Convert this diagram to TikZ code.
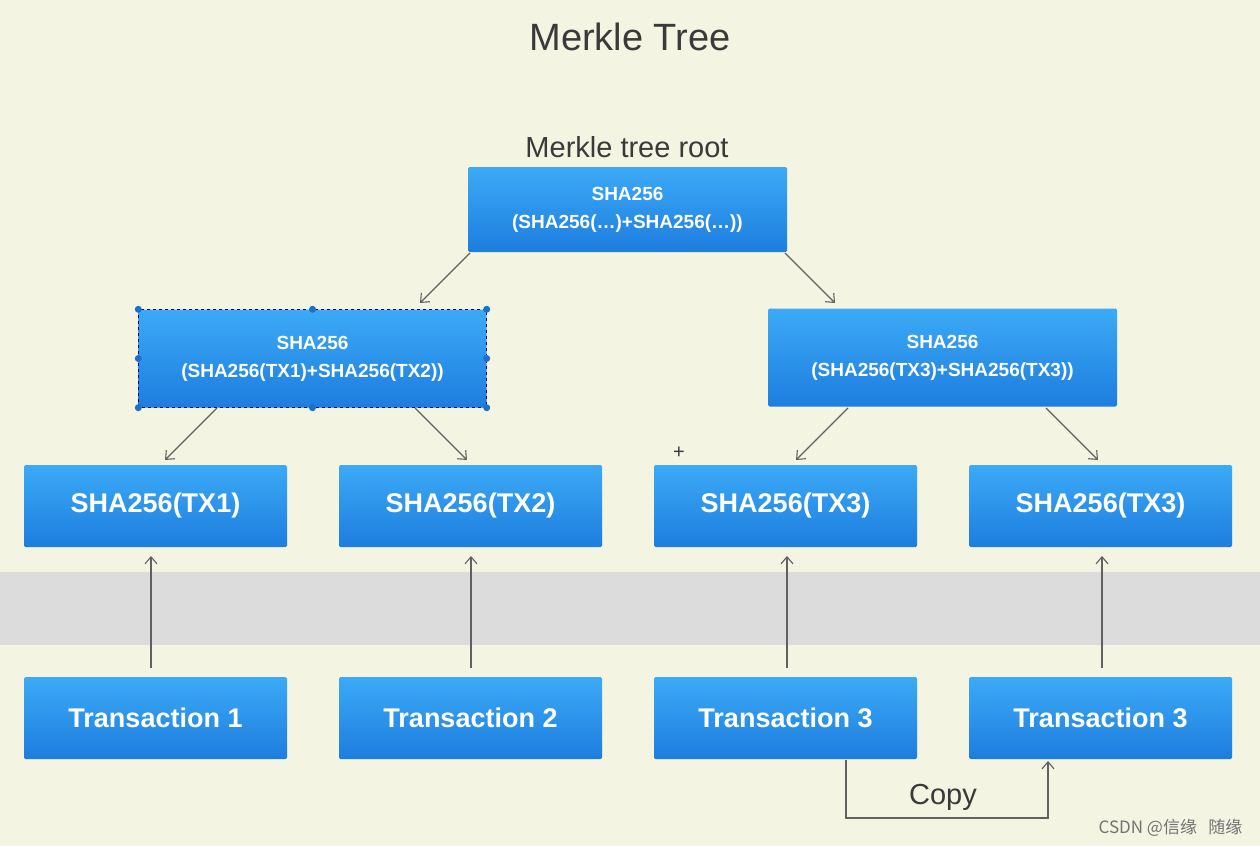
\documentclass[tikz,border=0pt]{standalone}
\usepackage{fontspec}
\setmainfont{Liberation Sans}
\newfontfamily\cjk{Noto Sans CJK SC}
\usetikzlibrary{arrows.meta}
\definecolor{bg}{HTML}{F3F4E2}
\definecolor{band}{HTML}{DCDCDC}
\definecolor{btop}{HTML}{3CAAF6}
\definecolor{bbot}{HTML}{1D7DDF}
\definecolor{ink}{HTML}{3A3A3A}
\begin{document}
\begin{tikzpicture}[x=1pt,y=-1pt,
 box/.style={rectangle,top color=btop,bottom color=bbot,draw=none,text=white,font=\bfseries,align=center,inner sep=0pt,rounded corners=1.5pt},
 leaf/.style={box,minimum width=263pt,minimum height=82pt,font=\bfseries\fontsize{27}{30}\selectfont},
 mid/.style={box,minimum width=348pt,minimum height=98pt,font=\bfseries\fontsize{19}{28}\selectfont},
 arr/.style={draw=ink!80,line width=1.1pt,-{Straight Barb[length=7pt,width=12pt]}},
 handle/.style={circle,fill=bbot!90!black,inner sep=0pt,minimum size=7pt}]
\fill[bg] (0,0) rectangle (1260,846);
\fill[band] (0,572) rectangle (1260,645);
\node[text=ink,font=\fontsize{38}{40}\selectfont] (title) at (630,37) {Merkle Tree};
\node[text=ink,font=\fontsize{29}{32}\selectfont] (rootlbl) at (627,147) {Merkle tree root};
\node[box,minimum width=319pt,minimum height=85pt,font=\bfseries\fontsize{19}{28}\selectfont] (root) at (627.5,209.5) {SHA256\\(SHA256(…)+SHA256(…))};
\node[mid] (ml) at (312.5,358.5) {SHA256\\(SHA256(TX1)+SHA256(TX2))};
\node[mid,minimum width=349pt] (mr) at (942.5,357.5) {SHA256\\(SHA256(TX3)+SHA256(TX3))};
\draw[dashed,line width=0.8pt,draw=blue!40!black] (ml.north west) rectangle (ml.south east);
\foreach \a in {north west,north,north east,east,south east,south,south west,west}
  \node[handle] at (ml.\a) {};
\node[leaf] (h1) at (155.5,506) {SHA256(TX1)};
\node[leaf] (h2) at (470.5,506) {SHA256(TX2)};
\node[leaf] (h3) at (785.5,506) {SHA256(TX3)};
\node[leaf] (h4) at (1100.5,506) {SHA256(TX3)};
\node[leaf] (t1) at (155.5,718) {Transaction 1};
\node[leaf] (t2) at (470.5,718) {Transaction 2};
\node[leaf] (t3) at (785.5,718) {Transaction 3};
\node[leaf] (t4) at (1100.5,718) {Transaction 3};
\draw[arr] (470,253) -- (420,303);
\draw[arr] (785,253) -- (835,303);
\draw[arr] (217,408) -- (165,460);
\draw[arr] (415,408) -- (467,460);
\draw[arr] (848,408) -- (796,460);
\draw[arr] (1046,408) -- (1098,460);
\foreach \t/\h/\x in {t1/h1/151,t2/h2/471,t3/h3/787,t4/h4/1102}
  \draw[arr] (\x,668) -- (\x,556);
\coordinate (c1) at (846,818);
\coordinate (c2) at (1048,818);
\draw[draw=ink!80,line width=1.1pt,-{Straight Barb[length=7pt,width=12pt]}] (846,760) -- (c1) -- (c2) -- (1048,761);
\node[text=ink,font=\fontsize{29}{32}\selectfont] (copy) at (943,797) {Copy};
\node[text=ink,font=\fontsize{20}{22}\selectfont] (plus) at (679,453) {+};
\node[text=white!45!black,font=\fontsize{17}{20}\selectfont\cjk,anchor=east] (wm) at (1246,828) {CSDN @信缘\ \ \ 随缘};
\end{tikzpicture}
\end{document}
